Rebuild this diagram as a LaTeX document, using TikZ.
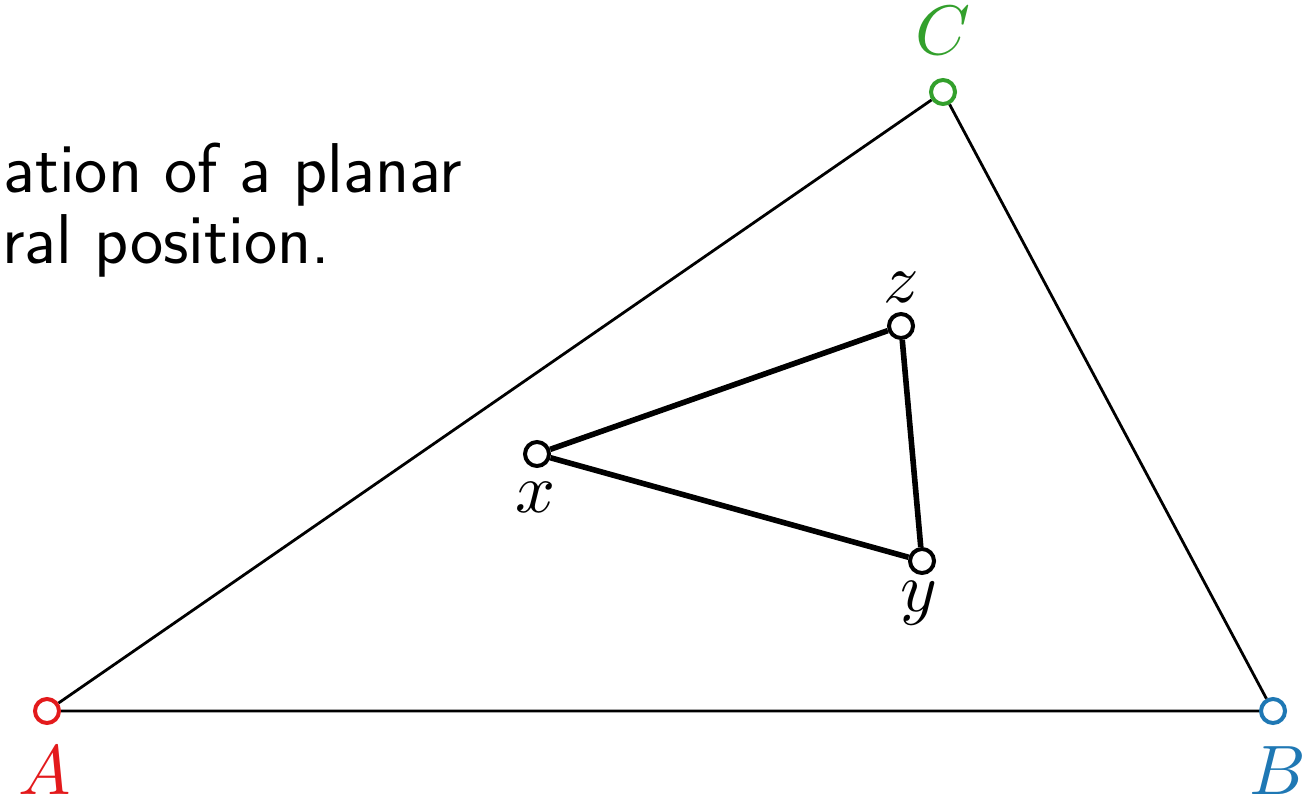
\documentclass[tikz,border=0pt]{standalone}
\usepackage{graphicx}
\definecolor{cA}{HTML}{E31A1C}
\definecolor{cB}{HTML}{1F78B4}
\definecolor{cC}{HTML}{33A02C}
\newcommand{\biglab}[1]{\scalebox{7}{$#1$}}
\tikzset{
  vert/.style={circle,draw,fill=white,inner sep=0pt,minimum size=24pt,line width=4pt},
  lab/.style={inner sep=0pt,font=\normalsize},
  outerline/.style={line width=2.8pt},
  innerline/.style={line width=5.6pt},
  captext/.style={inner sep=0pt,anchor=base east,font=\sffamily\fontsize{70.5}{76}\selectfont}
}
\begin{document}
\begin{tikzpicture}[x=1pt,y=-1pt]
\useasboundingbox (0,0) rectangle (1308,802);
\node[captext] (t1) at (462,193) {ation of a planar};
\node[captext] (t2) at (330,263) {ral position.};
\node[vert,draw=cA] (A) at (47,711) {};
\node[vert,draw=cB] (B) at (1273,711) {};
\node[vert,draw=cC] (C) at (943,92) {};
\node[vert] (x) at (537,454) {};
\node[vert] (y) at (922,561) {};
\node[vert] (z) at (901,326) {};
\draw[outerline] (A) -- (B) -- (C) -- (A);
\draw[innerline] (x) -- (y) -- (z) -- (x);
\node[lab,text=cA] (lA) at (45,771) {\biglab{A}};
\node[lab,text=cB] (lB) at (1278,771) {\biglab{B}};
\node[lab,text=cC] (lC) at (943,31) {\biglab{C}};
\node[lab] (lx) at (535,497) {\biglab{x}};
\node[lab] (ly) at (919,603) {\biglab{y}};
\node[lab] (lz) at (901,287) {\biglab{z}};
\end{tikzpicture}
\end{document}
